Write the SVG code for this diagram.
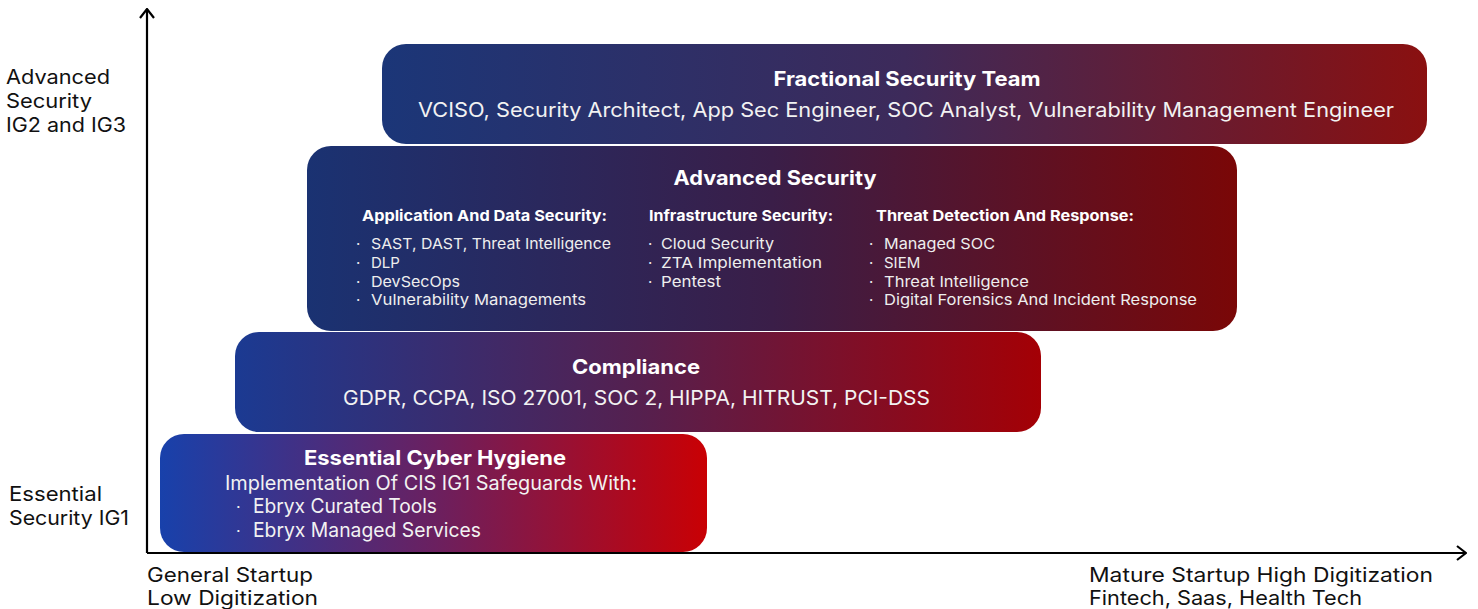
<svg xmlns="http://www.w3.org/2000/svg" width="1478" height="609" viewBox="0 0 1478 609">
<defs>
<linearGradient id="g1" x1="0" y1="0" x2="1" y2="0"><stop offset="0" stop-color="#1b3678"/><stop offset="0.5" stop-color="#3d2a5a"/><stop offset="1" stop-color="#8a1010"/></linearGradient>
<linearGradient id="g2" x1="0" y1="0" x2="1" y2="0"><stop offset="0" stop-color="#1a3272"/><stop offset="0.5" stop-color="#3a1e48"/><stop offset="1" stop-color="#7a0707"/></linearGradient>
<linearGradient id="g3" x1="0" y1="0" x2="1" y2="0"><stop offset="0" stop-color="#1b3a92"/><stop offset="0.5" stop-color="#55204f"/><stop offset="1" stop-color="#a40005"/></linearGradient>
<linearGradient id="g4" x1="0" y1="0" x2="1" y2="0"><stop offset="0" stop-color="#1841ab"/><stop offset="0.5" stop-color="#6a2060"/><stop offset="1" stop-color="#c90004"/></linearGradient>
<marker id="arr" viewBox="0 0 12 16" refX="11" refY="8" markerWidth="12" markerHeight="16" markerUnits="userSpaceOnUse" orient="auto"><path d="M2,1 L11,8 L2,15" fill="none" stroke="#000" stroke-width="2.2"/></marker>
<style>
text{font-family:Inter,"Open Sans","Liberation Sans",sans-serif;}
.ax{font-size:20px;fill:#111;}
.t{font-size:20px;font-weight:700;fill:#fff;text-anchor:middle;}
.s{font-size:20px;fill:#f2f2f2;}
.h{font-size:15px;font-weight:700;fill:#fff;}
.i{font-size:15px;fill:#eee;}
.b{font-size:15px;fill:#eee;}
</style>
</defs>
<g id="connectors">
<line x1="147" y1="553" x2="147" y2="9" stroke="#000" stroke-width="2.2" marker-end="url(#arr)"/>
<line x1="147" y1="553" x2="1466" y2="553" stroke="#000" stroke-width="2.2" marker-end="url(#arr)"/>
</g>
<g id="axis-labels">
<text class="ax" x="6" y="84" textLength="104" lengthAdjust="spacingAndGlyphs">Advanced</text>
<text class="ax" x="6" y="108" textLength="86" lengthAdjust="spacingAndGlyphs">Security</text>
<text class="ax" x="6" y="132" textLength="120" lengthAdjust="spacingAndGlyphs">IG2 and IG3</text>
<text class="ax" x="9" y="501" textLength="93" lengthAdjust="spacingAndGlyphs">Essential</text>
<text class="ax" x="9" y="525" textLength="120" lengthAdjust="spacingAndGlyphs">Security IG1</text>
<text class="ax" x="147" y="582" textLength="166" lengthAdjust="spacingAndGlyphs">General Startup</text>
<text class="ax" x="147" y="605" textLength="171" lengthAdjust="spacingAndGlyphs">Low Digitization</text>
<text class="ax" x="1089" y="582" textLength="344" lengthAdjust="spacingAndGlyphs">Mature Startup High Digitization</text>
<text class="ax" x="1089" y="605" textLength="273" lengthAdjust="spacingAndGlyphs">Fintech, Saas, Health Tech</text>
</g>
<g id="fractional">
<rect x="382" y="44" width="1045" height="100" rx="24" fill="url(#g1)"/>
<text class="t" x="907" y="86" textLength="267" lengthAdjust="spacingAndGlyphs">Fractional Security Team</text>
<text class="s" x="418" y="117" textLength="976" lengthAdjust="spacingAndGlyphs">VCISO, Security Architect, App Sec Engineer, SOC Analyst, Vulnerability Management Engineer</text>
</g>
<g id="advanced">
<rect x="307" y="146" width="930" height="185" rx="24" fill="url(#g2)"/>
<text class="t" x="775" y="185" textLength="203" lengthAdjust="spacingAndGlyphs">Advanced Security</text>
<text class="h" x="362" y="221" textLength="245" lengthAdjust="spacingAndGlyphs">Application And Data Security:</text>
<text class="b" x="356" y="249">·</text><text class="i" x="371" y="249" textLength="240" lengthAdjust="spacingAndGlyphs">SAST, DAST, Threat Intelligence</text>
<text class="b" x="356" y="268">·</text><text class="i" x="371" y="268">DLP</text>
<text class="b" x="356" y="287">·</text><text class="i" x="371" y="287" textLength="89" lengthAdjust="spacingAndGlyphs">DevSecOps</text>
<text class="b" x="356" y="305">·</text><text class="i" x="371" y="305" textLength="215" lengthAdjust="spacingAndGlyphs">Vulnerability Managements</text>
<text class="h" x="649" y="221" textLength="184" lengthAdjust="spacingAndGlyphs">Infrastructure Security:</text>
<text class="b" x="648" y="249">·</text><text class="i" x="661" y="249" textLength="113" lengthAdjust="spacingAndGlyphs">Cloud Security</text>
<text class="b" x="648" y="268">·</text><text class="i" x="661" y="268" textLength="161" lengthAdjust="spacingAndGlyphs">ZTA Implementation</text>
<text class="b" x="648" y="287">·</text><text class="i" x="661" y="287" textLength="60" lengthAdjust="spacingAndGlyphs">Pentest</text>
<text class="h" x="876" y="221" textLength="258" lengthAdjust="spacingAndGlyphs">Threat Detection And Response:</text>
<text class="b" x="869" y="249">·</text><text class="i" x="884" y="249" textLength="111" lengthAdjust="spacingAndGlyphs">Managed SOC</text>
<text class="b" x="869" y="268">·</text><text class="i" x="884" y="268">SIEM</text>
<text class="b" x="869" y="287">·</text><text class="i" x="884" y="287" textLength="145" lengthAdjust="spacingAndGlyphs">Threat Intelligence</text>
<text class="b" x="869" y="305">·</text><text class="i" x="884" y="305" textLength="313" lengthAdjust="spacingAndGlyphs">Digital Forensics And Incident Response</text>
</g>
<g id="compliance">
<rect x="235" y="332" width="806" height="100" rx="24" fill="url(#g3)"/>
<text class="t" x="636" y="374" textLength="128" lengthAdjust="spacingAndGlyphs">Compliance</text>
<text class="s" x="343" y="405" textLength="587" lengthAdjust="spacingAndGlyphs">GDPR, CCPA, ISO 27001, SOC 2, HIPPA, HITRUST, PCI-DSS</text>
</g>
<g id="essential">
<rect x="160" y="434" width="547" height="118" rx="24" fill="url(#g4)"/>
<text class="t" x="435" y="465" textLength="262" lengthAdjust="spacingAndGlyphs">Essential Cyber Hygiene</text>
<text class="s" x="225" y="490" textLength="412" lengthAdjust="spacingAndGlyphs">Implementation Of CIS IG1 Safeguards With:</text>
<text class="s" x="236" y="513" style="font-size:16px">·</text><text class="s" x="253" y="513" textLength="184" lengthAdjust="spacingAndGlyphs">Ebryx Curated Tools</text>
<text class="s" x="236" y="537" style="font-size:16px">·</text><text class="s" x="253" y="537" textLength="228" lengthAdjust="spacingAndGlyphs">Ebryx Managed Services</text>
</g>
</svg>
